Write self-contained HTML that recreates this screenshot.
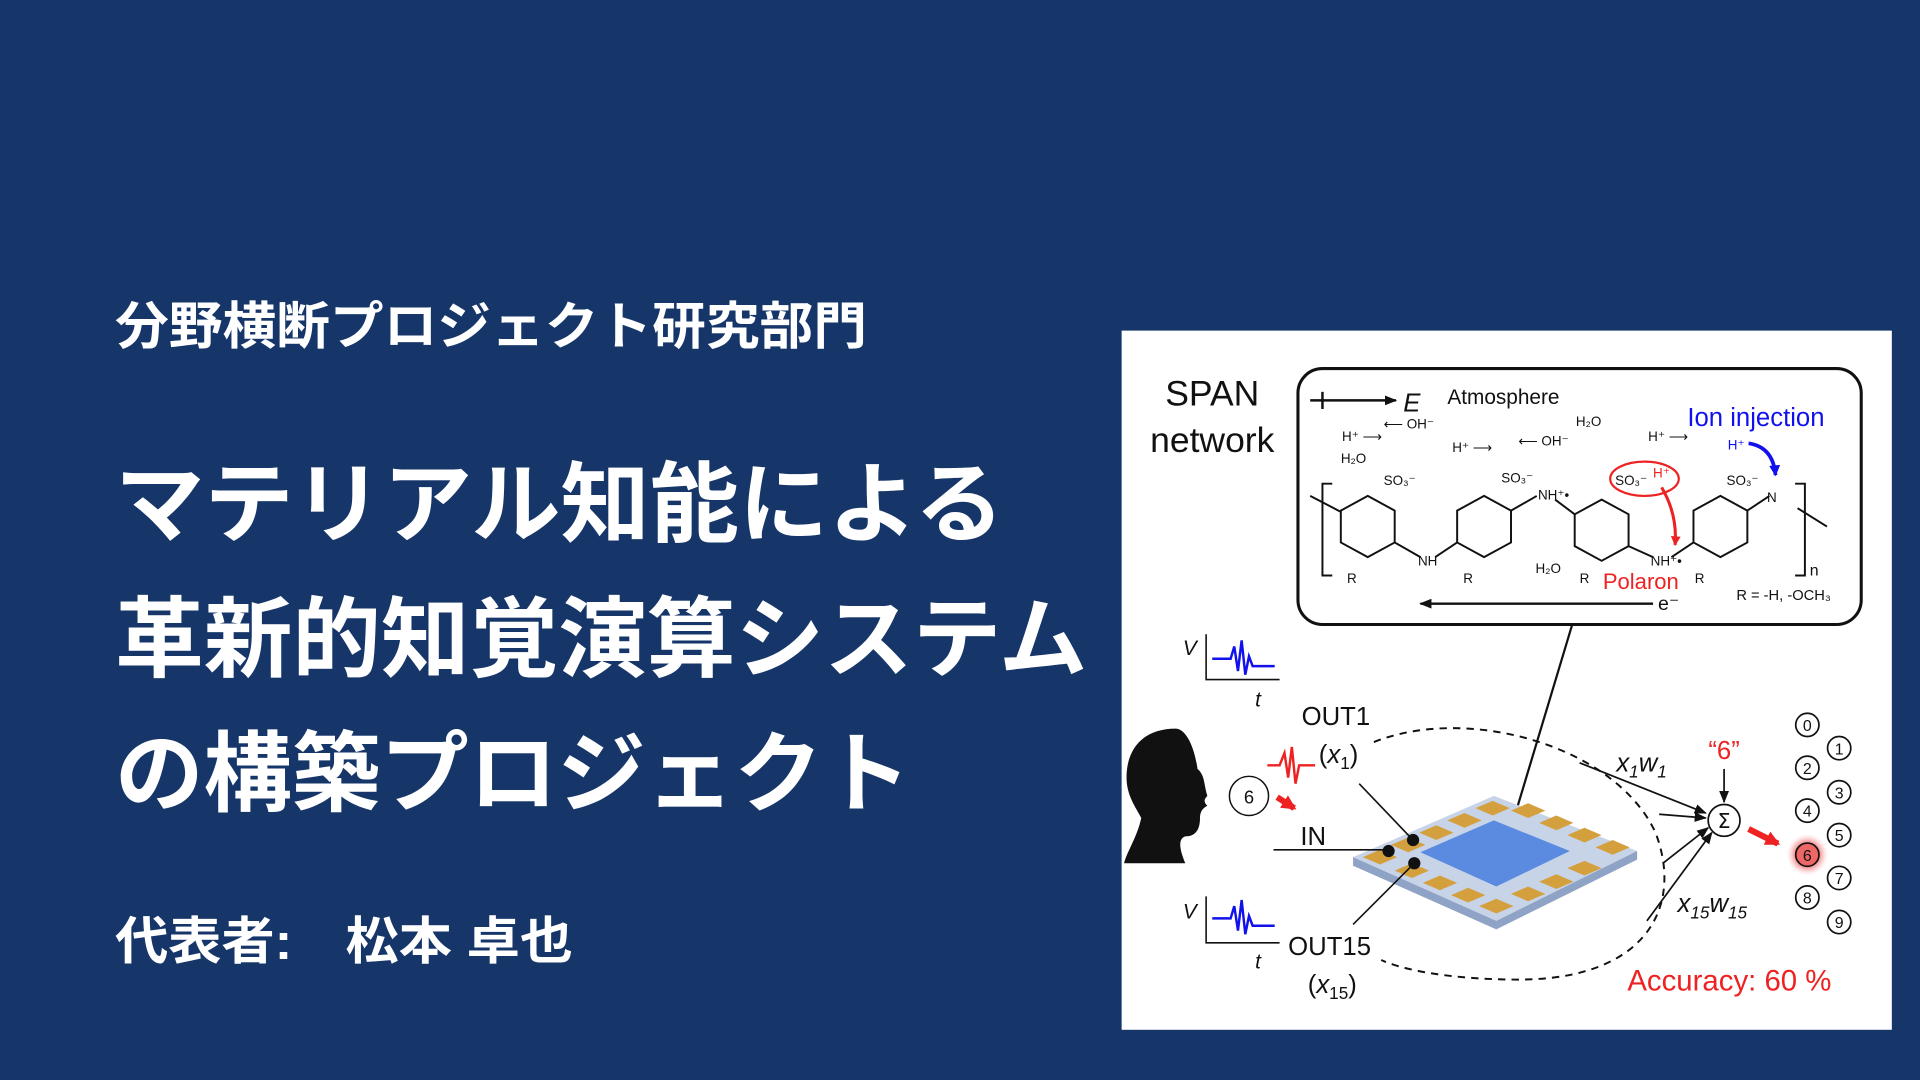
<!DOCTYPE html>
<html><head><meta charset="utf-8"><style>
html,body{margin:0;padding:0;width:1920px;height:1080px;overflow:hidden;background:#16366a}
svg{display:block}
.j{font-family:"Liberation Sans","Noto Sans CJK JP",sans-serif;fill:#fff;font-weight:bold}
.a{font-family:"Liberation Sans",sans-serif}
</style></head><body>
<svg width="1920" height="1080" viewBox="0 0 1568 882" xmlns="http://www.w3.org/2000/svg">
<rect width="1568" height="882" fill="#16366a"/>
<text class="j" x="94" y="281" font-size="42" textLength="614" lengthAdjust="spacingAndGlyphs">分野横断プロジェクト研究部門</text>
<text class="j" x="94" y="437" font-size="72" textLength="726" lengthAdjust="spacingAndGlyphs">マテリアル知能による</text>
<text class="j" x="94" y="547" font-size="72" textLength="794" lengthAdjust="spacingAndGlyphs">革新的知覚演算システム</text>
<text class="j" x="94" y="657" font-size="72" textLength="650" lengthAdjust="spacingAndGlyphs">の構築プロジェクト</text>
<text class="j" x="94" y="783" font-size="42" textLength="374" lengthAdjust="spacingAndGlyphs">代表者:　松本 卓也</text>

<rect x="916" y="270" width="629" height="571" fill="#fff"/>
<g class="a" fill="#111">
<text x="990" y="331" font-size="29" text-anchor="middle">SPAN</text>
<text x="990" y="369" font-size="29" text-anchor="middle">network</text>
</g>
<rect x="1060" y="301" width="460" height="209" rx="20" fill="none" stroke="#111" stroke-width="2.5"/>
<defs>
<marker id="ah" markerUnits="userSpaceOnUse" markerWidth="10" markerHeight="8" refX="9" refY="4" orient="auto"><path d="M0,0L10,4L0,8z" fill="#111"/></marker>
<marker id="ar" markerUnits="userSpaceOnUse" markerWidth="12" markerHeight="12" refX="10" refY="6" orient="auto"><path d="M0,0L12,6L0,12z" fill="#e22"/></marker>
<marker id="ar2" markerUnits="userSpaceOnUse" markerWidth="8" markerHeight="8" refX="7" refY="4" orient="auto"><path d="M0,0L8,4L0,8z" fill="#e22"/></marker>
<marker id="ab" markerUnits="userSpaceOnUse" markerWidth="9" markerHeight="9" refX="8" refY="4.5" orient="auto"><path d="M0,0L9,4.5L0,9z" fill="#11e"/></marker>
<radialGradient id="glow"><stop offset="0.5" stop-color="#e66"/><stop offset="1" stop-color="#fcc" stop-opacity="0"/></radialGradient>
</defs>
<g stroke="#111" stroke-width="2" fill="none">
<line x1="1070" y1="327" x2="1140" y2="327" marker-end="url(#ah)"/>
<line x1="1080" y1="320" x2="1080" y2="334"/>
</g>
<g class="a" fill="#111">
<text x="1146" y="336" font-size="21" font-style="italic">E</text>
<text x="1182" y="330" font-size="17">Atmosphere</text>
<g font-size="11">
<text x="1096" y="360">H⁺ ⟶</text><text x="1130" y="350">⟵ OH⁻</text><text x="1095" y="378">H₂O</text>
<text x="1186" y="369">H⁺ ⟶</text><text x="1240" y="364">⟵ OH⁻</text><text x="1287" y="348">H₂O</text>
<text x="1346" y="360">H⁺ ⟶</text>
<text x="1130" y="396">SO₃⁻</text><text x="1226" y="394">SO₃⁻</text><text x="1256" y="408">NH⁺•</text>
<text x="1319" y="396">SO₃⁻</text><text x="1410" y="396">SO₃⁻</text><text x="1443" y="410">N</text>
<text x="1158" y="462">NH</text><text x="1100" y="476">R</text><text x="1195" y="476">R</text>
<text x="1254" y="468">H₂O</text><text x="1290" y="476">R</text><text x="1348" y="462">NH⁺•</text><text x="1384" y="476">R</text>
<text x="1478" y="470" font-size="13">n</text>
<text x="1418" y="490" font-size="12">R = -H, -OCH₃</text>
<text x="1354" y="498" font-size="16">e⁻</text>
</g>
</g>
<text x="1350" y="390" class="a" font-size="11" fill="#e22">H⁺</text>
<text class="a" x="1378" y="348" font-size="21" fill="#11e">Ion injection</text>
<text class="a" x="1411" y="367" font-size="11" fill="#11e">H⁺</text>
<path d="M1428,362 Q1448,365 1450,388" stroke="#11e" stroke-width="3" fill="none" marker-end="url(#ab)"/>
<ellipse cx="1343" cy="391" rx="28" ry="14" fill="none" stroke="#e22" stroke-width="1.8"/>
<path d="M1357,398 Q1370,420 1368,445" stroke="#e22" stroke-width="2.5" fill="none" marker-end="url(#ar2)"/>
<text class="a" x="1309" y="481" font-size="18" fill="#e22">Polaron</text>
<g stroke="#111" stroke-width="1.6" fill="none">
<path d="M1088,395H1080V470H1088M1466,395H1474V470H1466"/>
<line x1="1070" y1="405" x2="1095" y2="418"/>
<line x1="1468" y1="415" x2="1492" y2="430"/>
<path d="M1117,405l22,12v26l-22,12l-22,-12v-26z"/>
<path d="M1212,405l22,12v26l-22,12l-22,-12v-26z"/>
<path d="M1308,408l22,12v26l-22,12l-22,-12v-26z"/>
<path d="M1405,405l22,12v26l-22,12l-22,-12v-26z"/>
<path d="M1139,443L1160,455M1190,443L1172,455M1234,417L1255,405M1286,420L1270,408M1330,446L1350,455M1383,443L1365,455M1427,417L1445,405"/>
<line x1="1350" y1="493" x2="1160" y2="493" stroke-width="2" marker-end="url(#ah)"/>
<line x1="1284" y1="510" x2="1232" y2="683" stroke-width="1.8"/>
</g>
<!-- chip -->
<path d="M1105,700L1220,650L1337,695L1222,752z" fill="#c7d3e6"/>
<path d="M1105,700L1222,752L1337,695L1337,702L1222,759L1105,707z" fill="#8ea3c6"/>
<path d="M1160,696L1220,670L1282,695L1222,724z" fill="#5a8be0"/>
<g fill="#d4a03e">
<path d="M1113,700l14,-6l14,6l-14,6z"/><path d="M1136,690l14,-6l14,6l-14,6z"/><path d="M1159,680l14,-6l14,6l-14,6z"/><path d="M1182,670l14,-6l14,6l-14,6z"/><path d="M1205,660l14,-6l14,6l-14,6z"/>
<path d="M1234,662l14,-6l14,6l-14,6z"/><path d="M1257,672l14,-6l14,6l-14,6z"/><path d="M1280,682l14,-6l14,6l-14,6z"/><path d="M1303,692l14,-6l14,6l-14,6z"/>
<path d="M1139,711l14,-6l14,6l-14,6z"/><path d="M1162,721l14,-6l14,6l-14,6z"/><path d="M1185,731l14,-6l14,6l-14,6z"/><path d="M1208,740l14,-6l14,6l-14,6z"/>
<path d="M1234,730l14,-6l14,6l-14,6z"/><path d="M1257,720l14,-6l14,6l-14,6z"/><path d="M1280,709l14,-6l14,6l-14,6z"/>
</g>
<g fill="#111"><circle cx="1134" cy="695" r="5"/><circle cx="1154" cy="686" r="5"/><circle cx="1155" cy="705" r="5"/></g>
<g stroke="#111" stroke-width="1.3" fill="none">
<line x1="1040" y1="694" x2="1130" y2="694"/>
<line x1="1110" y1="640" x2="1152" y2="684"/>
<line x1="1105" y1="755" x2="1152" y2="708"/>
</g>
<!-- head -->
<path d="M960,595c-25,0,-40,15,-40,40c0,15,8,25,12,33c-3,15,-12,28,-14,37h50c-5,-12,-6,-20,0,-22c8,0,12,-5,12,-15c0,-5,2,-8,6,-10c-3,-3,-3,-5,0,-8c-3,-10,-2,-17,-8,-22c-3,-20,-10,-33,-18,-33z" fill="#111"/>
<circle cx="1020" cy="650" r="16" fill="#fff" stroke="#111" stroke-width="1.2"/>
<text class="a" x="1020" y="656" font-size="15" text-anchor="middle" fill="#111">6</text>
<path d="M1035,625h10l4,-10l3,20l3,-25l3,30l3,-15l3,0h10" stroke="#e22" stroke-width="2" fill="none"/>
<path d="M1043,651l14,9" stroke="#e22" stroke-width="5" marker-end="url(#ar)"/>
<!-- plots -->
<g stroke="#111" stroke-width="1.3" fill="none">
<path d="M985,518V555H1045"/><path d="M985,732V770H1045"/>
</g>
<path d="M990,538h15l3,-10l3,20l3,-25l3,28l3,-15l3,8h18" stroke="#11e" stroke-width="2" fill="none"/>
<path d="M990,750h15l3,-10l3,20l3,-25l3,28l3,-15l3,8h18" stroke="#11e" stroke-width="2" fill="none"/>
<g class="a" fill="#111" font-style="italic" font-size="17">
<text x="966" y="535">V</text><text x="1025" y="577">t</text>
<text x="966" y="750">V</text><text x="1025" y="791">t</text>
</g>
<g class="a" fill="#111" font-size="21">
<text x="1063" y="592">OUT1</text>
<text x="1077" y="623">(<tspan font-style="italic">x</tspan><tspan font-size="14" dy="5">1</tspan><tspan dy="-5">)</tspan></text>
<text x="1062" y="690">IN</text>
<text x="1052" y="780">OUT15</text>
<text x="1068" y="811">(<tspan font-style="italic">x</tspan><tspan font-size="14" dy="5">15</tspan><tspan dy="-5">)</tspan></text>
<text x="1320" y="630" font-style="italic">x<tspan font-size="14" dy="5">1</tspan><tspan dy="-5">w</tspan><tspan font-size="14" dy="5">1</tspan></text>
<text x="1370" y="745" font-style="italic">x<tspan font-size="14" dy="5">15</tspan><tspan dy="-5">w</tspan><tspan font-size="14" dy="5">15</tspan></text>
</g>
<path d="M1122,606C1200,575 1320,610 1352,680C1375,740 1345,800 1240,800C1185,800 1145,792 1128,784" stroke="#111" stroke-width="1.6" stroke-dasharray="6,5" fill="none"/>
<g stroke="#111" stroke-width="1.4" fill="none">
<line x1="1290" y1="623" x2="1393" y2="664" marker-end="url(#ah)"/>
<line x1="1355" y1="665" x2="1393" y2="668" marker-end="url(#ah)"/>
<line x1="1358" y1="705" x2="1395" y2="676" marker-end="url(#ah)"/>
<line x1="1345" y1="752" x2="1398" y2="680" marker-end="url(#ah)"/>
<line x1="1408" y1="628" x2="1408" y2="655" marker-end="url(#ah)"/>
<circle cx="1408" cy="670" r="13" fill="#fff"/>
</g>
<text x="1408" y="676" font-size="17" text-anchor="middle" font-family="DejaVu Sans,sans-serif" fill="#111">Σ</text>
<text class="a" x="1408" y="620" font-size="21" fill="#e22" text-anchor="middle">“6”</text>
<path d="M1428,677l24,12" stroke="#e22" stroke-width="5" marker-end="url(#ar)"/>
<circle cx="1476" cy="698" r="17" fill="url(#glow)"/>
<g stroke="#111" stroke-width="1.4" fill="none">
<circle cx="1476" cy="592" r="9.5"/><circle cx="1476" cy="627" r="9.5"/><circle cx="1476" cy="662" r="9.5"/><circle cx="1476" cy="698" r="9.5"/><circle cx="1476" cy="733" r="9.5"/>
<circle cx="1502" cy="611" r="9.5"/><circle cx="1502" cy="647" r="9.5"/><circle cx="1502" cy="682" r="9.5"/><circle cx="1502" cy="717" r="9.5"/><circle cx="1502" cy="753" r="9.5"/>
</g>
<g class="a" fill="#111" font-size="13" text-anchor="middle">
<text x="1476" y="597">0</text><text x="1476" y="632">2</text><text x="1476" y="667">4</text><text x="1476" y="703">6</text><text x="1476" y="738">8</text>
<text x="1502" y="616">1</text><text x="1502" y="652">3</text><text x="1502" y="687">5</text><text x="1502" y="722">7</text><text x="1502" y="758">9</text>
</g>
<text class="a" x="1329" y="809" font-size="24" fill="#e22">Accuracy: 60 %</text>
</svg>
</body></html>
